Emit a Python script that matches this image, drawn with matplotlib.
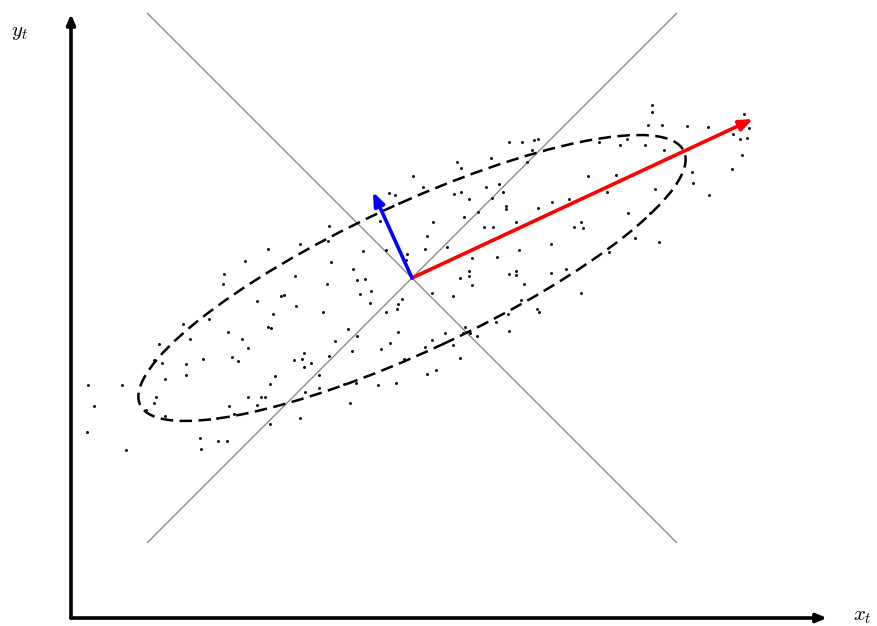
import numpy as np
import matplotlib.pyplot as plt
from matplotlib.patches import Ellipse

plt.rcParams['mathtext.fontset'] = 'cm'

# scattered samples (x_t, y_t), centred on the mean
pts_x = [0.01, -0.23, -0.17, -0.13,
         0.11, 0.97, 1.10, 1.22, 1.26, 1.20, 0.45, 0.79, 0.49, 1.15, 0.74, 0.87, 0.91, 0.42,
         0.49, 0.57, 0.80, 0.94, 0.94, 1.26, 1.40, 1.57, 1.76, 0.66,
         2.40, 2.40, 2.36, 2.50, 2.75, 2.96, 3.32, 3.37, 3.21, 3.28, 3.35, 1.87, 2.08, 2.15,
         2.33, 2.52, 3.30, 3.20, 2.04, 2.80, 2.81, 2.43, 2.97, 1.95, 2.16, 2.38,
         -1.89, -1.88, -1.67, -2.29, -2.03, -1.84,
         -0.83, -0.32, -1.12, -0.84, -1.44, -0.49, -0.26, -0.05, -0.06, -0.81, -0.59, -1.17,
         -0.55, -0.47, -0.85, -0.41, -0.52, -1.31, -1.28, -1.55, -1.16, -0.42, -0.10, -0.14,
         -0.15, -0.26, -1.39, -0.89, -1.44, -1.41, -0.64, -0.14,
         0.21, 0.52, 0.15, 0.13, 0.35, 0.72, 0.81, 1.04, 1.62, 1.69, 1.71, 1.39, 1.07, 0.85,
         0.60, 0.57, 0.57, 0.48, 0.60, 0.97, 1.04, 1.04, 1.12, 1.39, 1.54, 1.69, 0.20, 0.41,
         1.09, 1.25, 1.27, 0.96, 0.84, 0.53, 0.51, 0.58, 0.33, 0.97,
         2.23, 2.47, 1.97,
         -2.53, -2.22, -1.70, -1.64, -2.09, -1.80, -1.74, -2.58, -2.50, -2.26, -2.26, -2.47,
         -2.90, -3.24, -2.56, -2.58, -3.18, -1.64, -1.83, -1.78, -2.66, -2.47, -1.95, -3.25,
         -2.12, -1.94, -1.85, -2.11, -2.86,
         -0.77, -0.55, -0.60, -0.31, -0.22, -1.08, -1.10, -1.18, -1.08, -1.01, -0.83, -1.37,
         -0.93, -1.42, -0.93, -1.51, -1.47, -1.55, -1.07, -0.68, -0.56, -0.34, -0.16, -0.08,
         -0.62, -1.42, -1.12,
         0.20, 0.13, 0.41, 0.65, 0.48, 0.24, 0.15]
pts_y = [1.02, 0.85, 0.83, 0.75,
         0.91, 1.36, 1.36, 1.38, 1.39, 1.28, 1.16, 1.20, 1.10, 1.16, 0.91, 0.94, 0.86, 0.84,
         0.86, 0.79, 0.80, 0.72, 0.69, 0.70, 0.76, 0.79, 1.02, 0.66,
         1.73, 1.66, 1.53, 1.53, 1.52, 1.51, 1.64, 1.50, 1.44, 1.39, 1.40, 1.36, 1.33, 1.39,
         1.33, 1.28, 1.23, 1.09, 1.03, 1.06, 0.95, 0.89, 0.83, 0.86, 0.65, 0.65,
         -0.06, 0.04, 0.17, -0.46, -0.41, -0.54,
         0.52, 0.57, 0.34, 0.37, 0.29, 0.27, 0.28, 0.24, 0.18, 0.16, 0.09, 0.02,
         -0.02, -0.01, -0.06, -0.13, -0.16, -0.18, -0.17, -0.23, -0.28, -0.25, -0.21, -0.26,
         -0.31, -0.34, -0.36, -0.34, -0.49, -0.50, -0.51, -0.54,
         0.56, 0.61, 0.42, 0.29, 0.31, 0.51, 0.51, 0.56, 0.51, 0.56, 0.50, 0.34, 0.28, 0.21,
         0.20, 0.07, 0.02, 0.00, -0.07, 0.04, 0.07, 0.03, -0.06, 0.05, 0.09, -0.15, -0.15, -0.18,
         -0.22, -0.31, -0.34, -0.36, -0.44, -0.49, -0.55, -0.55, -0.55, -0.53,
         0.40, 0.36, 0.26,
         -0.66, -0.61, -0.61, -0.70, -0.81, -0.79, -0.83, -0.82, -0.85, -0.86, -0.97, -1.01,
         -1.07, -1.07, -1.19, -1.25, -1.28, -1.19, -1.28, -1.36, -1.32, -1.38, -1.40, -1.54,
         -1.60, -1.63, -1.63, -1.71, -1.72,
         -0.63, -0.58, -0.73, -0.71, -0.65, -0.75, -0.81, -0.82, -0.89, -0.85, -0.78, -0.98,
         -0.97, -1.06, -1.10, -1.19, -1.19, -1.27, -1.14, -1.06, -1.05, -1.07, -1.05, -0.81,
         -1.25, -1.46, -1.40,
         -0.62, -0.69, -0.67, -0.58, -0.80, -0.92, -0.96]

# principal directions (end points from the mean)
pc1 = (3.41, 1.59)
pc2 = (-0.39, 0.86)
ell_width, ell_height, ell_angle = 6.0, 1.46, 25

# diagonal guide lines and axis extents
diag = 2.645
x_axis = (-3.41, 4.15)
y_axis = (-3.40, 2.64)

fig = plt.figure(figsize=(8.77, 6.26), dpi=100)
ax = fig.add_axes([0, 0, 1, 1])
ax.set_xlim(-4.12, 4.65)
ax.set_ylim(-3.48, 2.78)
ax.axis('off')

ax.plot([-diag, diag], [diag, -diag], color='#808080', lw=0.9, zorder=1)
ax.plot([-diag, diag], [-diag, diag], color='#808080', lw=0.9, zorder=1)

ax.scatter(pts_x, pts_y, s=4.5, color='black', lw=0, zorder=3)

ax.add_patch(Ellipse((0, 0), ell_width, ell_height, angle=ell_angle, fill=False,
                     ec='black', lw=1.8, ls=(0, (5, 2.6)), zorder=2))

ax.annotate('', xy=pc1, xytext=(0, 0),
            arrowprops=dict(arrowstyle='-|>,head_length=0.8,head_width=0.32', color='red',
                            lw=2.6, shrinkA=0, shrinkB=0), zorder=4)
ax.annotate('', xy=pc2, xytext=(0, 0),
            arrowprops=dict(arrowstyle='-|>,head_length=0.8,head_width=0.32', color='blue',
                            lw=2.6, shrinkA=0, shrinkB=0), zorder=4)

# coordinate axes
ax.annotate('', xy=(x_axis[1], y_axis[0]), xytext=(x_axis[0], y_axis[0]),
            arrowprops=dict(arrowstyle='-|>,head_length=0.6,head_width=0.25', color='black',
                            lw=2.6, shrinkA=0, shrinkB=0))
ax.annotate('', xy=(x_axis[0], y_axis[1]), xytext=(x_axis[0], y_axis[0]),
            arrowprops=dict(arrowstyle='-|>,head_length=0.6,head_width=0.25', color='black',
                            lw=2.6, shrinkA=0, shrinkB=0))
ax.text(4.50, -3.38, '$x_t$', fontsize=15, ha='center', va='center')
ax.text(-3.92, 2.46, '$y_t$', fontsize=15, ha='center', va='center')

fig.savefig('out.png', dpi=100)
